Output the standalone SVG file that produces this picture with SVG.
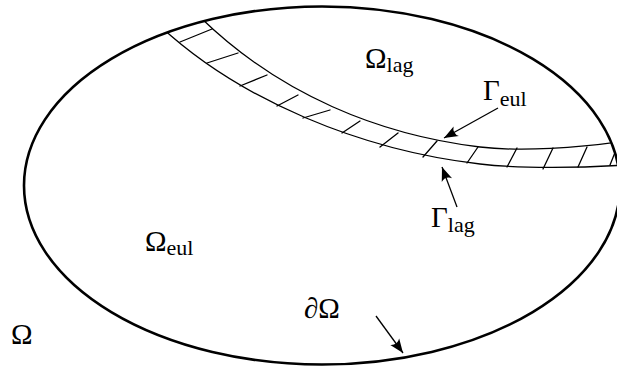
<svg xmlns="http://www.w3.org/2000/svg" width="617" height="370" viewBox="0 0 617 370">
<style>
.thin{fill:none;stroke:#000;stroke-width:1.3;stroke-linecap:round}
.bound{fill:none;stroke:#000;stroke-width:2.6}
.arr{fill:none;stroke:#000;stroke-width:1.3;marker-end:url(#ah)}
.lbl{font-family:"Liberation Serif","Times New Roman",serif;font-size:29px;fill:#000}
.sub{font-size:22px}
</style>
<defs>
<marker id="ah" markerUnits="userSpaceOnUse" viewBox="-15 -7 16 14" refX="0" refY="0" markerWidth="16" markerHeight="14" orient="auto">
<path d="M0,0 L-14,-5.5 Q-9.5,0 -14,5.5 Z" fill="#000"/>
</marker>
<clipPath id="inside"><ellipse cx="322" cy="185.5" rx="298" ry="179"/></clipPath>
</defs>
<g id="band" clip-path="url(#inside)">
<path class="thin" d="M200 17 C280 95 380 135 480 147 C520 151.8 580 148 625 141"/>
<path class="thin" d="M160 26 C240 100 360 150 480 164 C520 168.7 580 168 625 165"/>
<path class="thin" d="M180 42L212 29M207 63L238 53M240 86L267 75M277 106L298 95M303 118L330 110M342 133L360 121M380 147L398 133M423 157L437 141M467 163L478 147M507 167L517 148M543 169L553 148M578 167L587 147M610 165L616 150"/>
</g>
<g id="domain"><ellipse class="bound" cx="322" cy="185.5" rx="298" ry="179"/></g>
<g id="connectors">
<path class="arr" d="M498 108 L444 138"/>
<path class="arr" d="M457 207 L442 167"/>
<path class="arr" d="M376 316 L403 353"/>
</g>
<g id="omega"><text class="lbl" x="11" y="344">Ω</text></g>
<g id="omega-lag"><text class="lbl" x="365" y="68">Ω<tspan class="sub" dy="4">lag</tspan></text></g>
<g id="omega-eul"><text class="lbl" x="145" y="251">Ω<tspan class="sub" dy="4">eul</tspan></text></g>
<g id="gamma-eul"><text class="lbl" x="483" y="100">Γ<tspan class="sub" dy="6">eul</tspan></text></g>
<g id="gamma-lag"><text class="lbl" x="431" y="227">Γ<tspan class="sub" dy="5">lag</tspan></text></g>
<g id="dOmega"><text class="lbl" x="304" y="318"><tspan font-style="italic">∂</tspan>Ω</text></g>
</svg>
